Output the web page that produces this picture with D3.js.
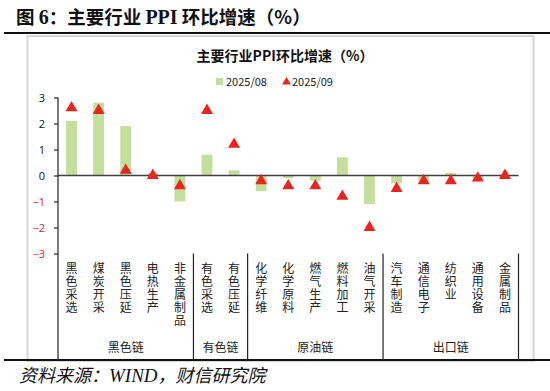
<!DOCTYPE html>
<html>
<head>
<meta charset="utf-8">
<script src="https://cdn.jsdelivr.net/npm/d3@7/dist/d3.min.js"></script>
<style>
  body { margin: 0; background: #fff; }
  svg { display: block; }
</style>
</head>
<body>
<script>
var width = 550;
var height = 391;

// data
var categories = ["黑色采选", "煤炭开采", "黑色压延", "电热生产", "非金属制品",
                  "有色采选", "有色压延",
                  "化学纤维", "化学原料", "燃气生产", "燃料加工", "油气开采",
                  "汽车制造", "通信电子", "纺织业", "通用设备", "金属制品"];
var aug = [2.1, 2.8, 1.9, 0.1, -1.0, 0.8, 0.2, -0.6, -0.1, -0.2, 0.7, -1.1, -0.3, -0.2, 0.1, -0.1, -0.1];
var sep = [2.6, 2.5, 0.2, 0.0, -0.4, 2.5, 1.2, -0.2, -0.4, -0.4, -0.8, -2.0, -0.5, -0.2, -0.2, -0.1, 0.0];
var groupNames = ["黑色链", "有色链", "原油链", "出口链"];
var groupSizes = [5, 2, 5, 5];
var yTicks = [3, 2, 1, 0, -1, -2, -3];
var seriesNames = ["2025/08", "2025/09"];

var green = "#c4df9b";
var red = "#e8251e";
var cjk = "'Noto Sans CJK SC', 'Noto Sans', sans-serif";

var svg = d3.select("body")
    .append("svg")
    .attr("width", width)
    .attr("height", height);

// page heading
var head = svg.append("text")
    .attr("x", 16)
    .attr("y", 24)
    .attr("font-family", cjk)
    .attr("font-weight", "bold")
    .attr("font-size", 18.5)
    .attr("fill", "#111");
head.append("tspan").text("图 ");
head.append("tspan").attr("font-family", "'Liberation Serif', serif").attr("font-size", 20).text("6");
head.append("tspan").text("：主要行业 ");
head.append("tspan").attr("font-family", "'Liberation Serif', serif").attr("font-size", 20).text("PPI");
head.append("tspan").text(" 环比增速（%）");

// chart frame
svg.append("rect")
    .attr("x", 27.5)
    .attr("y", 36)
    .attr("width", 506)
    .attr("height", 325)
    .attr("fill", "none")
    .attr("stroke", "#d6d6d6")
    .attr("stroke-width", 2);

svg.append("line")
    .attr("x1", 4).attr("x2", 550)
    .attr("y1", 33).attr("y2", 33)
    .attr("stroke", "#111").attr("stroke-width", 2);

svg.append("line")
    .attr("x1", 4).attr("x2", 550)
    .attr("y1", 360).attr("y2", 360)
    .attr("stroke", "#111").attr("stroke-width", 2);

// chart title
svg.append("text")
    .attr("x", 285)
    .attr("y", 61)
    .attr("text-anchor", "middle")
    .attr("font-family", cjk)
    .attr("font-weight", "bold")
    .attr("font-size", 14)
    .attr("fill", "#111")
    .text("主要行业PPI环比增速（%）");

// legend
var legend = svg.append("g").attr("font-family", cjk).attr("font-size", 11).attr("fill", "#222");
legend.append("rect")
    .attr("x", 216).attr("y", 78)
    .attr("width", 7).attr("height", 7)
    .attr("fill", green);
legend.append("text").attr("x", 226).attr("y", 85.5).text(seriesNames[0]);
legend.append("path")
    .attr("d", d3.symbol(d3.symbolTriangle, 34)())
    .attr("transform", "translate(286.5,82)")
    .attr("fill", red);
legend.append("text").attr("x", 292).attr("y", 85.5).text(seriesNames[1]);

// scales
var x = d3.scaleBand()
    .domain(categories)
    .range([58, 518.5])
    .paddingInner(0.6)
    .paddingOuter(0.3);

var y = d3.scaleLinear()
    .domain([-3, 3])
    .range([253.5, 97.5]);

// bars
svg.append("g")
    .selectAll("rect")
    .data(aug)
    .join("rect")
    .attr("x", function(d, i) { return x(categories[i]); })
    .attr("width", x.bandwidth())
    .attr("y", function(d) { return y(Math.max(d, 0)); })
    .attr("height", function(d) { return Math.abs(y(d) - y(0)); })
    .attr("fill", green);

// zero line
svg.append("line")
    .attr("x1", 58).attr("x2", 518.5)
    .attr("y1", y(0)).attr("y2", y(0))
    .attr("stroke", "#404040")
    .attr("stroke-width", 1.3);

// y axis
var yAxis = svg.append("g")
    .attr("transform", "translate(58,0)")
    .call(d3.axisLeft(y).tickValues(yTicks).tickSize(4).tickFormat(d3.format("d")));
yAxis.select(".domain").remove();
yAxis.selectAll("line").attr("stroke", "#222").attr("stroke-width", 1.2);
yAxis.selectAll("text")
    .attr("x", -13)
    .attr("font-family", "'Open Sans', sans-serif")
    .attr("font-size", 11)
    .attr("fill", function(d) { return d < 0 ? red : "#111"; });

svg.append("line")
    .attr("x1", 58).attr("x2", 58)
    .attr("y1", y(3)).attr("y2", 360)
    .attr("stroke", "#222").attr("stroke-width", 1.2);

// triangles
svg.append("g")
    .selectAll("path")
    .data(sep)
    .join("path")
    .attr("d", d3.symbol(d3.symbolTriangle, 62)())
    .attr("transform", function(d, i) {
        return "translate(" + (x(categories[i]) + x.bandwidth() / 2) + "," + y(d) + ")";
    })
    .attr("fill", red);

// vertical category labels
svg.append("g")
    .attr("font-family", cjk)
    .attr("font-size", 12)
    .attr("fill", "#222")
    .selectAll("text")
    .data(categories)
    .join("text")
    .attr("x", function(d) { return x(d) + x.bandwidth() / 2; })
    .attr("y", 262)
    .style("writing-mode", "vertical-rl")
    .style("text-orientation", "upright")
    .attr("letter-spacing", 1)
    .text(function(d) { return d; });

// group separators and names
var start = 0;
groupSizes.forEach(function(n, g) {
    var left = x(categories[start]) - x.step() * x.paddingInner() / 2;
    var last = categories[start + n - 1];
    var right = x(last) + x.bandwidth() + x.step() * x.paddingInner() / 2;
    svg.append("line")
        .attr("x1", right).attr("x2", right)
        .attr("y1", y(-3)).attr("y2", 360)
        .attr("stroke", "#222").attr("stroke-width", 1.2);
    svg.append("text")
        .attr("x", (left + right) / 2)
        .attr("y", 352)
        .attr("text-anchor", "middle")
        .attr("font-family", cjk)
        .attr("font-size", 12)
        .attr("fill", "#222")
        .text(groupNames[g]);
    start += n;
});

// source line
var src = svg.append("text")
    .attr("x", 19)
    .attr("y", 382)
    .attr("font-family", cjk)
    .attr("font-style", "italic")
    .attr("font-size", 18)
    .attr("fill", "#111");
src.append("tspan").text("资料来源：");
src.append("tspan").attr("font-family", "'Liberation Serif', serif").attr("font-size", 19).text("WIND");
src.append("tspan").text("，财信研究院");
</script>
</body>
</html>
